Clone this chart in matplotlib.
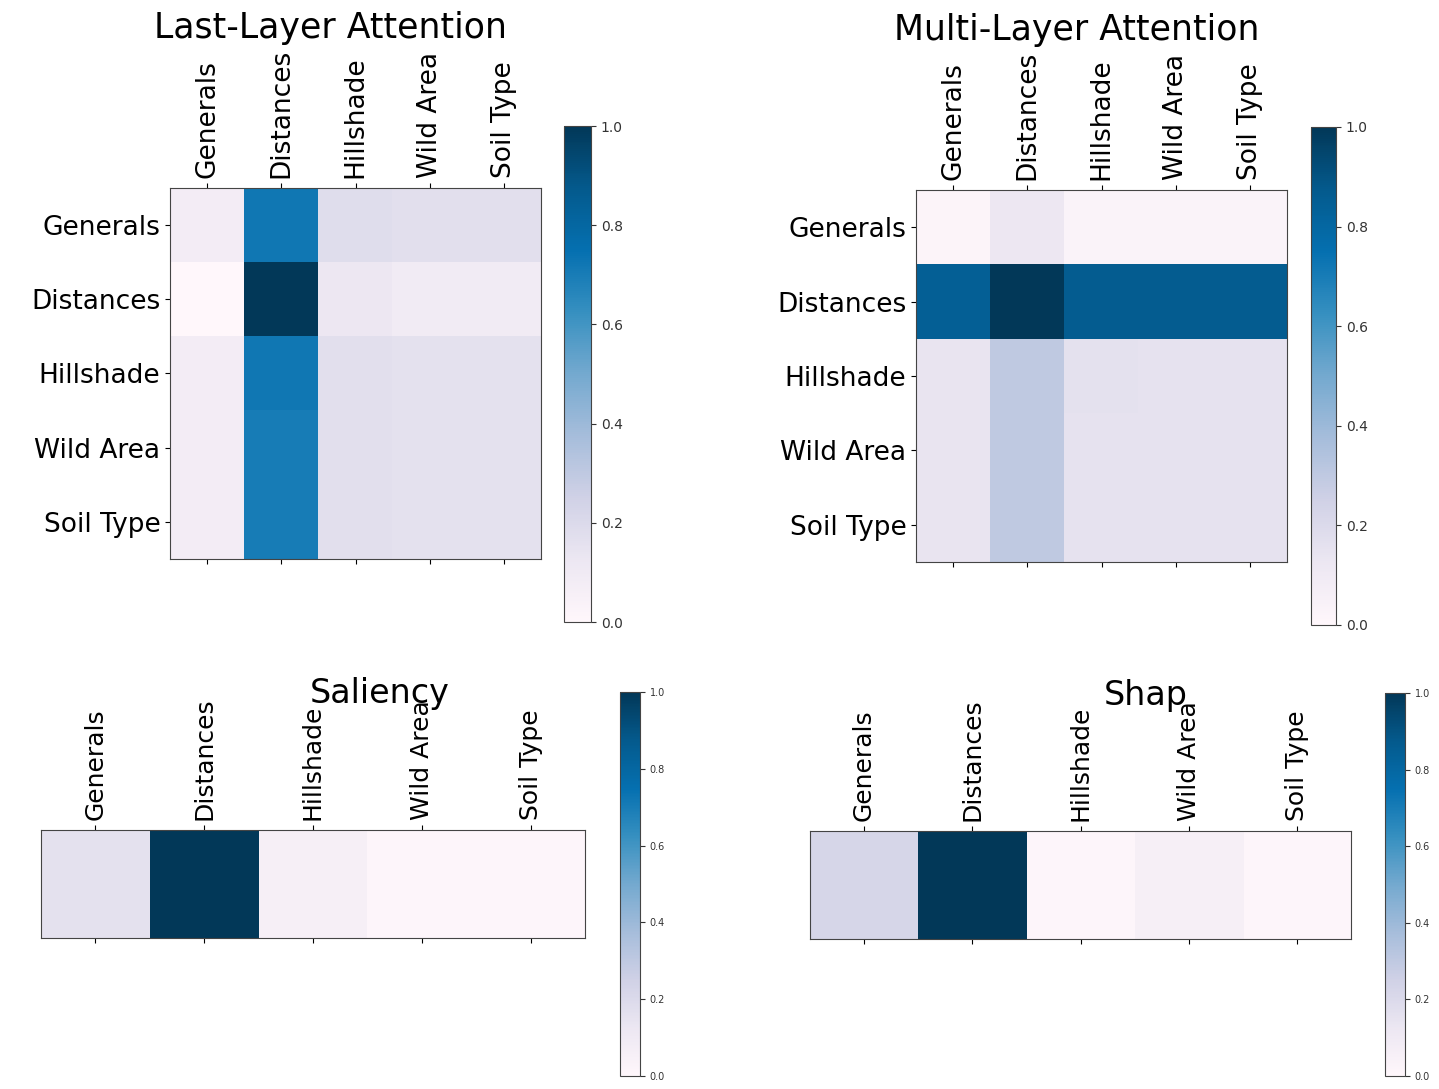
import numpy as np
import matplotlib
matplotlib.use("Agg")
import matplotlib.pyplot as plt

features = ["Generals", "Distances", "Hillshade", "Wild Area", "Soil Type"]

# rows = query feature, cols = attended feature
last_layer = [
    [0.08, 0.72, 0.18, 0.17, 0.17],
    [0.00, 1.00, 0.12, 0.09, 0.09],
    [0.08, 0.72, 0.17, 0.16, 0.16],
    [0.08, 0.70, 0.17, 0.16, 0.16],
    [0.08, 0.70, 0.17, 0.16, 0.16],
]
multi_layer = [
    [0.02, 0.12, 0.03, 0.03, 0.03],
    [0.84, 1.00, 0.86, 0.86, 0.86],
    [0.14, 0.30, 0.16, 0.15, 0.15],
    [0.14, 0.30, 0.15, 0.15, 0.15],
    [0.14, 0.30, 0.15, 0.15, 0.15],
]
saliency = [0.16, 1.00, 0.06, 0.01, 0.01]
shap = [0.22, 1.00, 0.01, 0.06, 0.01]

W, H = 1439, 1089
fig = plt.figure(figsize=(W / 100, H / 100), dpi=100)


def box(x0, y0, x1, y1):
    # pixel box -> figure fraction rect
    return [x0 / W, 1 - y1 / H, (x1 - x0) / W, (y1 - y0) / H]


def heat(ax_rect, cb_rect, data, show_y, cb_size, lab_size):
    ax = fig.add_axes(box(*ax_rect))
    im = ax.imshow(np.atleast_2d(data), cmap="PuBu", vmin=0, vmax=1, aspect="auto")
    ax.set_xticks(range(len(features)))
    ax.set_xticklabels(features, rotation=90, fontsize=lab_size)
    ax.tick_params(axis="x", top=True, bottom=True, labeltop=True, labelbottom=False)
    if show_y:
        ax.set_yticks(range(len(features)))
        ax.set_yticklabels(features, fontsize=lab_size)
    else:
        ax.set_yticks([])
    for s in ax.spines.values():
        s.set_color("#444444")
    cax = fig.add_axes(box(*cb_rect))
    cb = fig.colorbar(im, cax=cax, ticks=np.arange(0, 1.01, 0.2))
    cb.ax.tick_params(labelsize=cb_size, colors="#333333")
    cb.outline.set_edgecolor("#444444")
    return ax


heat((170, 188, 541, 559), (564, 126, 591, 622), last_layer, True, 10, 19)
heat((916, 190, 1287, 562), (1311, 127, 1336, 625), multi_layer, True, 10, 19)
heat((41, 830, 585, 938), (620, 692, 640, 1076), saliency, False, 7, 18)
heat((810, 831, 1351, 939), (1385, 693, 1405, 1076), shap, False, 7, 18)

fig.text(331 / W, 1 - 28 / H, "Last-Layer Attention", fontsize=25, ha="center", va="center")
fig.text(1077 / W, 1 - 30 / H, "Multi-Layer Attention", fontsize=25, ha="center", va="center")
fig.text(380 / W, 1 - 693 / H, "Saliency", fontsize=24, ha="center", va="center")
fig.text(1146 / W, 1 - 695 / H, "Shap", fontsize=24, ha="center", va="center")

fig.savefig("out.png", dpi=100)
